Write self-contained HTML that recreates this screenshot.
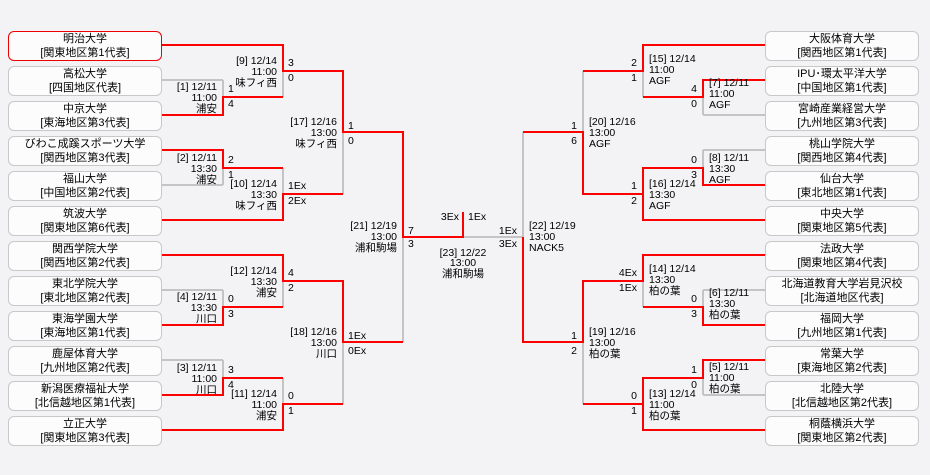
<!DOCTYPE html>
<html><head><meta charset="utf-8"><style>
body{margin:0;background:#f3f2f5;width:930px;height:475px;overflow:hidden;position:relative;font-family:"Liberation Sans","Noto Sans CJK JP",sans-serif;}
.b{position:absolute;width:152px;height:28px;border:1px solid #c8c8c8;border-radius:6px;background:#fcfcfd;text-align:center;font-size:11px;line-height:14px;color:#000;white-space:nowrap;}
.l{left:8px}.r{left:765px}
svg{position:absolute;left:0;top:0}
text{font-family:"Liberation Sans","Noto Sans CJK JP",sans-serif;font-size:10.5px;fill:#000}
</style></head><body>
<div class="b l" style="top:31px;border-color:#e00">明治大学<br>[関東地区第1代表]</div>
<div class="b l" style="top:66px">高松大学<br>[四国地区代表]</div>
<div class="b l" style="top:101px">中京大学<br>[東海地区第3代表]</div>
<div class="b l" style="top:136px">びわこ成蹊スポーツ大学<br>[関西地区第3代表]</div>
<div class="b l" style="top:171px">福山大学<br>[中国地区第2代表]</div>
<div class="b l" style="top:206px">筑波大学<br>[関東地区第6代表]</div>
<div class="b l" style="top:241px">関西学院大学<br>[関西地区第2代表]</div>
<div class="b l" style="top:276px">東北学院大学<br>[東北地区第2代表]</div>
<div class="b l" style="top:311px">東海学園大学<br>[東海地区第1代表]</div>
<div class="b l" style="top:346px">鹿屋体育大学<br>[九州地区第2代表]</div>
<div class="b l" style="top:381px">新潟医療福祉大学<br>[北信越地区第1代表]</div>
<div class="b l" style="top:416px">立正大学<br>[関東地区第3代表]</div>
<div class="b r" style="top:31px">大阪体育大学<br>[関西地区第1代表]</div>
<div class="b r" style="top:66px">IPU･環太平洋大学<br>[中国地区第1代表]</div>
<div class="b r" style="top:101px">宮崎産業経営大学<br>[九州地区第3代表]</div>
<div class="b r" style="top:136px">桃山学院大学<br>[関西地区第4代表]</div>
<div class="b r" style="top:171px">仙台大学<br>[東北地区第1代表]</div>
<div class="b r" style="top:206px">中央大学<br>[関東地区第5代表]</div>
<div class="b r" style="top:241px">法政大学<br>[関東地区第4代表]</div>
<div class="b r" style="top:276px">北海道教育大学岩見沢校<br>[北海道地区代表]</div>
<div class="b r" style="top:311px">福岡大学<br>[九州地区第1代表]</div>
<div class="b r" style="top:346px">常葉大学<br>[東海地区第2代表]</div>
<div class="b r" style="top:381px">北陸大学<br>[北信越地区第2代表]</div>
<div class="b r" style="top:416px">桐蔭横浜大学<br>[関東地区第2代表]</div>
<svg width="930" height="475" viewBox="0 0 930 475">
<g stroke="#c4c4c4" stroke-width="2" fill="none">
<path d="M162 80H223M162 185H223M162 290H223M162 360H223"/>
<path d="M223 80V97M223 168V185M223 290V307M223 360V378"/>
<path d="M283 71V97M283 168V194M283 281V307M283 378V404"/>
<path d="M343 132V194M343 342V404M403 237V342M463 237H523"/>
<path d="M765 115H703M765 150H703M765 290H703M765 395H703"/>
<path d="M703 97V115M703 150V168M703 290V307M703 378V395"/>
<path d="M643 71V97M643 281V307M583 71V132M583 342V404M523 132V237"/>
</g>
<g stroke="#f00" stroke-width="2" fill="none">
<path d="M162 45H283V71H343V132H403V237H463V212"/>
<path d="M162 115H223V97H283"/>
<path d="M162 150H223V168H283"/>
<path d="M162 220H283V194H343"/>
<path d="M162 255H283V281H343V342H403"/>
<path d="M162 325H223V307H283"/>
<path d="M162 395H223V378H283"/>
<path d="M162 430H283V404H343"/>
<path d="M765 45H643V71H583"/>
<path d="M765 80H703V97H643"/>
<path d="M765 185H703V168H643V220H765"/>
<path d="M643 194H583V132H523"/>
<path d="M765 255H643V281H583V342H523V237"/>
<path d="M765 325H703V307H643"/>
<path d="M765 360H703V378H643V430H765"/>
<path d="M643 404H583"/>
</g>
<g text-anchor="end">
<text x="277" y="64">[9] 12/14</text><text x="277" y="75">11:00</text><text x="277" y="86">味フィ西</text>
<text x="217" y="90">[1] 12/11</text><text x="217" y="101">11:00</text><text x="217" y="112">浦安</text>
<text x="337" y="125">[17] 12/16</text><text x="337" y="136">13:00</text><text x="337" y="147">味フィ西</text>
<text x="217" y="161">[2] 12/11</text><text x="217" y="172">13:30</text><text x="217" y="183">浦安</text>
<text x="277" y="187">[10] 12/14</text><text x="277" y="198">13:30</text><text x="277" y="209">味フィ西</text>
<text x="397" y="229">[21] 12/19</text><text x="397" y="240">13:00</text><text x="397" y="251">浦和駒場</text>
<text x="277" y="274">[12] 12/14</text><text x="277" y="285">13:30</text><text x="277" y="296">浦安</text>
<text x="217" y="300">[4] 12/11</text><text x="217" y="311">13:30</text><text x="217" y="322">川口</text>
<text x="337" y="335">[18] 12/16</text><text x="337" y="346">13:00</text><text x="337" y="357">川口</text>
<text x="217" y="371">[3] 12/11</text><text x="217" y="382">11:00</text><text x="217" y="393">川口</text>
<text x="277" y="397">[11] 12/14</text><text x="277" y="408">11:00</text><text x="277" y="419">浦安</text>
<text x="637" y="66">2</text><text x="637" y="81">1</text>
<text x="697" y="92">4</text><text x="697" y="107">0</text>
<text x="577" y="129">1</text><text x="577" y="144">6</text>
<text x="697" y="163">0</text><text x="697" y="178">3</text>
<text x="637" y="189">1</text><text x="637" y="204">2</text>
<text x="459" y="220">3Ex</text>
<text x="517" y="234">1Ex</text><text x="517" y="247">3Ex</text>
<text x="637" y="276">4Ex</text><text x="637" y="291">1Ex</text>
<text x="697" y="302">0</text><text x="697" y="317">3</text>
<text x="577" y="339">1</text><text x="577" y="354">2</text>
<text x="697" y="373">1</text><text x="697" y="388">0</text>
<text x="637" y="399">0</text><text x="637" y="414">1</text>
</g>
<g>
<text x="288" y="66">3</text><text x="288" y="81">0</text>
<text x="228" y="92">1</text><text x="228" y="107">4</text>
<text x="348" y="129">1</text><text x="348" y="144">0</text>
<text x="228" y="163">2</text><text x="228" y="178">1</text>
<text x="288" y="189">1Ex</text><text x="288" y="204">2Ex</text>
<text x="408" y="234">7</text><text x="408" y="247">3</text>
<text x="468" y="220">1Ex</text>
<text x="288" y="276">4</text><text x="288" y="291">2</text>
<text x="228" y="302">0</text><text x="228" y="317">3</text>
<text x="348" y="339">1Ex</text><text x="348" y="354">0Ex</text>
<text x="228" y="373">3</text><text x="228" y="388">4</text>
<text x="288" y="399">0</text><text x="288" y="414">1</text>
<text x="649" y="62">[15] 12/14</text><text x="649" y="73">11:00</text><text x="649" y="84">AGF</text>
<text x="709" y="86">[7] 12/11</text><text x="709" y="97">11:00</text><text x="709" y="108">AGF</text>
<text x="589" y="125">[20] 12/16</text><text x="589" y="136">13:00</text><text x="589" y="147">AGF</text>
<text x="709" y="161">[8] 12/11</text><text x="709" y="172">13:30</text><text x="709" y="183">AGF</text>
<text x="649" y="187">[16] 12/14</text><text x="649" y="198">13:30</text><text x="649" y="209">AGF</text>
<text x="529" y="229">[22] 12/19</text><text x="529" y="240">13:00</text><text x="529" y="251">NACK5</text>
<text x="649" y="272">[14] 12/14</text><text x="649" y="283">13:30</text><text x="649" y="294">柏の葉</text>
<text x="709" y="296">[6] 12/11</text><text x="709" y="307">13:30</text><text x="709" y="318">柏の葉</text>
<text x="589" y="335">[19] 12/16</text><text x="589" y="346">13:00</text><text x="589" y="357">柏の葉</text>
<text x="709" y="370">[5] 12/11</text><text x="709" y="381">11:00</text><text x="709" y="392">柏の葉</text>
<text x="649" y="397">[13] 12/14</text><text x="649" y="408">11:00</text><text x="649" y="419">柏の葉</text>
</g>
<g text-anchor="middle">
<text x="463" y="256">[23] 12/22</text><text x="463" y="266">13:00</text><text x="463" y="277">浦和駒場</text>
</g>
</svg>
</body></html>
